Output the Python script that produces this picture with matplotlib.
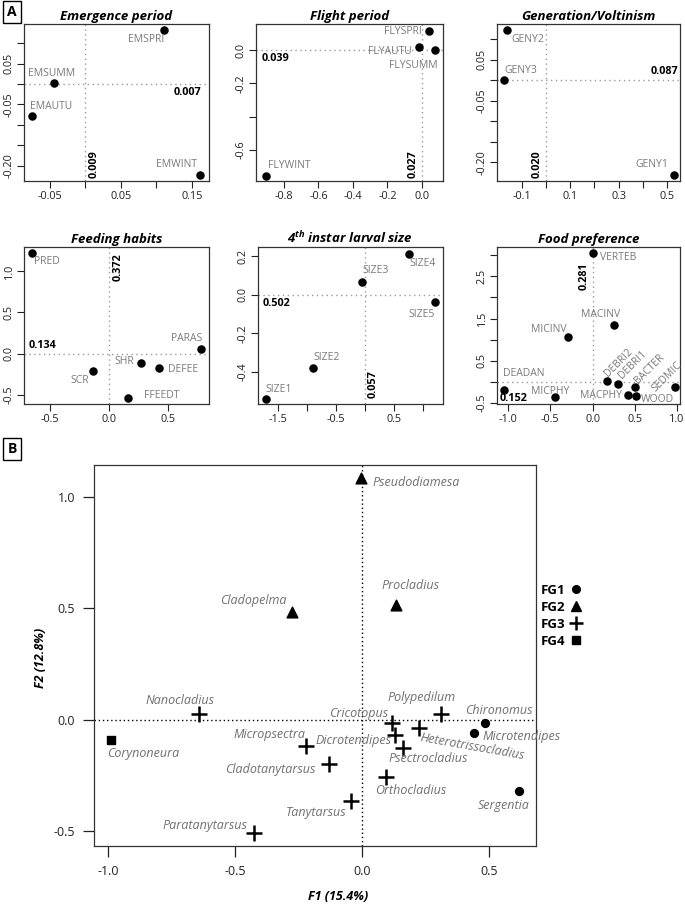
import matplotlib
matplotlib.use('Agg')
import matplotlib.pyplot as plt
from matplotlib.lines import Line2D

plt.rcParams['font.family'] = ['Open Sans', 'DejaVu Sans']
plt.rcParams['mathtext.fontset'] = 'custom'
plt.rcParams['mathtext.rm'] = 'Open Sans:italic:bold'
plt.rcParams['mathtext.it'] = 'Open Sans:italic:bold'
plt.rcParams['mathtext.bf'] = 'Open Sans:italic:bold'

W, H = 685, 906

# ---------------- panel A data ----------------
em_names = ['EMSPRI', 'EMSUMM', 'EMAUTU', 'EMWINT']
em_x = [0.110, -0.045, -0.076, 0.162]
em_y = [0.132, 0.002, -0.078, -0.223]

fly_names = ['FLYSPRI', 'FLYAUTU', 'FLYSUMM', 'FLYWINT']
fly_x = [0.040, -0.017, 0.075, -0.904]
fly_y = [0.114, 0.018, 0.000, -0.756]

geny_names = ['GENY2', 'GENY3', 'GENY1']
geny_x = [-0.161, -0.174, 0.529]
geny_y = [0.122, 0.000, -0.232]

feed_names = ['PRED', 'PARAS', 'SHR', 'DEFEE', 'SCR', 'FFEEDT']
feed_x = [-0.653, 0.780, 0.270, 0.420, -0.135, 0.160]
feed_y = [1.220, 0.060, -0.110, -0.180, -0.210, -0.540]

size_names = ['SIZE4', 'SIZE3', 'SIZE5', 'SIZE2', 'SIZE1']
size_x = [0.76, -0.05, 1.20, -0.90, -1.71]
size_y = [0.210, 0.067, -0.036, -0.377, -0.540]

food_names = ['VERTEB', 'MACINV', 'MICINV', 'DEBRI2', 'DEBRI1', 'BACTER',
              'SEDMIC', 'DEADAN', 'MICPHY', 'MACPHY', 'WOOD']
food_x = [0.00, 0.25, -0.29, 0.17, 0.30, 0.50, 0.98, -1.05, -0.45, 0.42, 0.52]
food_y = [3.04, 1.34, 1.06, 0.02, -0.05, -0.12, -0.12, -0.18, -0.36, -0.30, -0.33]

# correlation ratios written on the axes
em_ratio = ['0.007', '0.009']
fly_ratio = ['0.039', '0.027']
geny_ratio = ['0.087', '0.020']
feed_ratio = ['0.134', '0.372']
size_ratio = ['0.502', '0.057']
food_ratio = ['0.152', '0.281']

# ---------------- panel B data ----------------
fg1_names = ['Chironomus', 'Microtendipes', 'Sergentia']
fg1_x = [0.484, 0.440, 0.618]
fg1_y = [-0.014, -0.059, -0.320]

fg2_names = ['Pseudodiamesa', 'Cladopelma', 'Procladius']
fg2_x = [-0.004, -0.276, 0.134]
fg2_y = [1.086, 0.482, 0.514]

fg3_names = ['Nanocladius', 'Micropsectra', 'Cladotanytarsus', 'Paratanytarsus',
             'Tanytarsus', 'Cricotopus', 'Dicrotendipes', 'Psectrocladius',
             'Heterotrissocladius', 'Polypedilum', 'Orthocladius']
fg3_x = [-0.642, -0.220, -0.130, -0.425, -0.043, 0.118, 0.130, 0.161, 0.224, 0.311, 0.094]
fg3_y = [0.023, -0.120, -0.198, -0.509, -0.365, -0.014, -0.068, -0.126, -0.036, 0.027, -0.257]

fg4_names = ['Corynoneura']
fg4_x = [-0.988]
fg4_y = [-0.090]

fg_labels = ['FG1', 'FG2', 'FG3', 'FG4']

LABEL_GREY = '#7a7a7a'
LINE_GREY = '#9a9a9a'

fig = plt.figure(figsize=(W / 100, H / 100), dpi=100)


def axes_px(l, t, r, b):
    return fig.add_axes([l / W, 1 - b / H, (r - l) / W, (b - t) / H])


def small_panel(box, title, names, xs, ys, place, lims, xticks, xlabels, yticks, ylabels, ratios, ratio_pos):
    ax = axes_px(*box)
    ax.axhline(0, color=LINE_GREY, ls=(0, (1, 2.5)), lw=1, zorder=1)
    ax.axvline(0, color=LINE_GREY, ls=(0, (1, 2.5)), lw=1, zorder=1)
    ax.scatter(xs, ys, s=26, color='black', zorder=3, clip_on=False)
    for n, x, y, p in zip(names, xs, ys, place):
        dx, dy, ha = p[:3]
        rot = p[3] if len(p) > 3 else 0
        ax.annotate(n, (x, y), xytext=(dx, dy), textcoords='offset pixels',
                    ha=ha, va='center', rotation=rot, rotation_mode='anchor',
                    color=LABEL_GREY, fontsize=7.5)
    ax.set_xlim(*lims[0])
    ax.set_ylim(*lims[1])
    ax.set_xticks(xticks)
    ax.set_xticklabels(xlabels)
    ax.set_yticks(yticks)
    ax.set_yticklabels(ylabels, rotation=90, va='center')
    ax.tick_params(length=5, width=0.8, labelsize=7.8, colors='#222222')
    ax.tick_params(axis='x', pad=2.5)
    ax.tick_params(axis='y', pad=1.5)
    for s in ax.spines.values():
        s.set_color('#333333')
        s.set_linewidth(0.9)
    ax.set_title(title, fontweight='bold', style='italic', fontsize=9.5, pad=3)

    # horizontal axis ratio (x in axes fraction, y at 0)
    hx, hdy, hha = ratio_pos[0]
    ax.annotate(ratios[0], (hx, 0), xycoords=('axes fraction', 'data'),
                xytext=(0, hdy), textcoords='offset pixels', ha=hha,
                va='top' if hdy < 0 else 'bottom', fontsize=7.8, fontweight='bold')
    # vertical axis ratio (x at 0, y in axes fraction)
    vdx, vy, vva = ratio_pos[1]
    ax.annotate(ratios[1], (0, vy), xycoords=('data', 'axes fraction'),
                xytext=(vdx, 0), textcoords='offset pixels', rotation=90,
                ha='left' if vdx > 0 else 'right', va=vva,
                fontsize=7.8, fontweight='bold')
    return ax


small_panel((24, 24, 209, 181), 'Emergence period', em_names, em_x, em_y,
            [(-17, -10, 'center'), (-2, 10, 'center'), (-2, 9, 'left'), (-24, 11, 'center')],
            [(-0.0866, 0.174), (-0.237, 0.1466)],
            [-0.05, 0, 0.05, 0.10, 0.15], ['-0.05', '', '0.05', '', '0.15'],
            [0.10, 0.05, 0, -0.05, -0.10, -0.15, -0.20],
            ['', '0.05', '', '-0.05', '', '', '-0.20'],
            em_ratio, [(0.96, -3, 'right'), (3, 0.02, 'bottom')])

small_panel((256, 24, 443, 181), 'Flight period', fly_names, fly_x, fly_y,
            [(-7, -1, 'right'), (-7, -5, 'right'), (-22, -16, 'center'), (2, 11, 'left')],
            [(-0.962, 0.122), (-0.786, 0.156)],
            [-0.8, -0.6, -0.4, -0.2, 0.0], ['-0.8', '-0.6', '-0.4', '-0.2', '0.0'],
            [0.0, -0.2, -0.4, -0.6], ['0.0', '-0.2', '', '-0.6'],
            fly_ratio, [(0.03, -3, 'left'), (-3, 0.02, 'bottom')])

small_panel((497, 24, 680, 181), 'Generation/Voltinism', geny_names, geny_x, geny_y,
            [(4, -9, 'left'), (0, 10, 'left'), (-22, 11, 'center')],
            [(-0.203, 0.554), (-0.246, 0.137)],
            [-0.1, 0.0, 0.1, 0.2, 0.3, 0.4, 0.5], ['-0.1', '', '0.1', '', '0.3', '', '0.5'],
            [0.10, 0.05, 0, -0.05, -0.10, -0.15, -0.20],
            ['', '0.05', '', '-0.05', '', '', '-0.20'],
            geny_ratio, [(0.99, 3, 'right'), (-3, 0.02, 'bottom')])

small_panel((24, 247, 209, 404), 'Feeding habits', feed_names, feed_x, feed_y,
            [(2, -9, 'left'), (-14, 10, 'center'), (-7, 1, 'right'), (9, -1, 'left'),
             (-13, -10, 'center'), (16, 3, 'left')],
            [(-0.72, 0.847), (-0.61, 1.29)],
            [-0.5, 0.0, 0.5], ['-0.5', '0.0', '0.5'],
            [1.0, 0.5, 0.0, -0.5], ['1.0', '0.5', '0.0', '-0.5'],
            feed_ratio, [(0.027, 3, 'left'), (4, 0.96, 'top')])

small_panel((258, 247, 443, 404), r'4$^{th}$ instar larval size', size_names, size_x, size_y,
            [(0, -9, 'left'), (0, 11, 'left'), (-13, -13, 'center'), (1, 10, 'left'), (0, 10, 'left')],
            [(-1.845, 1.345), (-0.565, 0.247)],
            [-1.5, -1.0, -0.5, 0.0, 0.5, 1.0], ['-1.5', '', '-0.5', '', '0.5', ''],
            [0.2, 0.0, -0.2, -0.4], ['0.2', '0.0', '-0.2', '-0.4'],
            size_ratio, [(0.027, -3, 'left'), (3, 0.04, 'bottom')])

small_panel((497, 247, 680, 404), 'Food preference', food_names, food_x, food_y,
            [(7, -4, 'left'), (-13, 11, 'center'), (-19, 8, 'center'),
             (-1, 6, 'left', 45), (2, 7, 'left', 45), (1, 5, 'left', 45), (-22, -3, 'left', 45),
             (-1, 16, 'left'), (-4, 6, 'center'), (-6, -1, 'right'), (4, -4, 'left')],
            [(-1.131, 1.036), (-0.52, 3.19)],
            [-1.0, -0.5, 0.0, 0.5, 1.0], ['-1.0', '-0.5', '0.0', '0.5', '1.0'],
            [3.0, 2.5, 2.0, 1.5, 1.0, 0.5, 0.0, -0.5],
            ['', '2.5', '', '1.5', '', '0.5', '', '-0.5'],
            food_ratio, [(0.016, -11, 'left'), (-3, 0.90, 'top')])

# ---------------- panel B ----------------
axb = axes_px(94, 465, 536, 846)
axb.axhline(0, color='black', ls=(0, (1, 2)), lw=1, zorder=1)
axb.axvline(0, color='black', ls=(0, (1, 2)), lw=1, zorder=1)
axb.scatter(fg1_x, fg1_y, marker='o', s=32, color='black', zorder=3)
axb.scatter(fg2_x, fg2_y, marker='^', s=60, color='black', zorder=3)
axb.scatter(fg3_x, fg3_y, marker='+', s=120, color='black', linewidths=1.8, zorder=3)
axb.scatter(fg4_x, fg4_y, marker='s', s=38, color='black', zorder=3)

b_place = {
    'Chironomus': (14, 12, 'center', 0), 'Microtendipes': (9, -4, 'left', 0),
    'Sergentia': (-15, -15, 'center', 0),
    'Pseudodiamesa': (11, -5, 'left', 0), 'Cladopelma': (-5, 12, 'right', 0),
    'Procladius': (14, 20, 'center', 0),
    'Nanocladius': (-19, 14, 'center', 0), 'Micropsectra': (-1, 12, 'right', 0),
    'Cladotanytarsus': (-14, -6, 'right', 0), 'Paratanytarsus': (-7, 7, 'right', 0),
    'Tanytarsus': (-5, -12, 'right', 0), 'Cricotopus': (-4, 9, 'right', 0),
    'Dicrotendipes': (-4, -6, 'right', 0), 'Psectrocladius': (25, -11, 'center', 0),
    'Heterotrissocladius': (1, -10, 'left', -10), 'Polypedilum': (-19, 16, 'center', 0),
    'Orthocladius': (25, -14, 'center', 0),
    'Corynoneura': (-4, -14, 'left', 0),
}
for names, xs, ys in [(fg1_names, fg1_x, fg1_y), (fg2_names, fg2_x, fg2_y),
                      (fg3_names, fg3_x, fg3_y), (fg4_names, fg4_x, fg4_y)]:
    for n, x, y in zip(names, xs, ys):
        dx, dy, ha, rot = b_place[n]
        axb.annotate(n, (x, y), xytext=(dx, dy), textcoords='offset pixels',
                     ha=ha, va='center', rotation=rot, rotation_mode='anchor',
                     color='#707070', fontsize=9, style='italic')

axb.set_xlim(-1.055, 0.685)
axb.set_ylim(-0.568, 1.144)
axb.set_xticks([-1.0, -0.5, 0.0, 0.5])
axb.set_xticklabels(['-1.0', '-0.5', '0.0', '0.5'])
axb.set_yticks([-0.5, 0.0, 0.5, 1.0])
axb.set_yticklabels(['-0.5', '0.0', '0.5', '1.0'])
axb.tick_params(length=8, width=0.9, labelsize=9, colors='#222222')
axb.tick_params(axis='x', pad=6)
axb.tick_params(axis='y', pad=5.5)
for s in axb.spines.values():
    s.set_color('#333333')
    s.set_linewidth(0.9)

fig.text(338 / W, 1 - 897 / H, 'F1 (15.4%)', ha='center', va='center',
         fontsize=9, fontweight='bold', style='italic')
fig.text(40 / W, 1 - 658 / H, 'F2 (12.8%)', ha='center', va='center', rotation=90,
         fontsize=9, fontweight='bold', style='italic')

handles = [Line2D([], [], ls='', marker='o', ms=5.5, color='black'),
           Line2D([], [], ls='', marker='^', ms=7.5, color='black'),
           Line2D([], [], ls='', marker='+', ms=10, mew=1.8, color='black'),
           Line2D([], [], ls='', marker='s', ms=6, color='black')]
fig.legend(handles, fg_labels, loc='upper left', bbox_to_anchor=(541 / W, 1 - 584 / H),
           frameon=False, markerfirst=False, handlelength=0.8, handletextpad=0.4,
           labelspacing=0.3, borderpad=0, borderaxespad=0,
           prop={'weight': 'bold', 'size': 9.5})

# panel letters
for letter, (px, py) in zip(['A', 'B'], [(12, 12), (12, 449)]):
    fig.text(px / W, 1 - py / H, letter, ha='center', va='center', fontsize=10,
             fontweight='bold',
             bbox=dict(boxstyle='square,pad=0.3', fc='white', ec='black', lw=1))

fig.savefig('out.png', dpi=100)
